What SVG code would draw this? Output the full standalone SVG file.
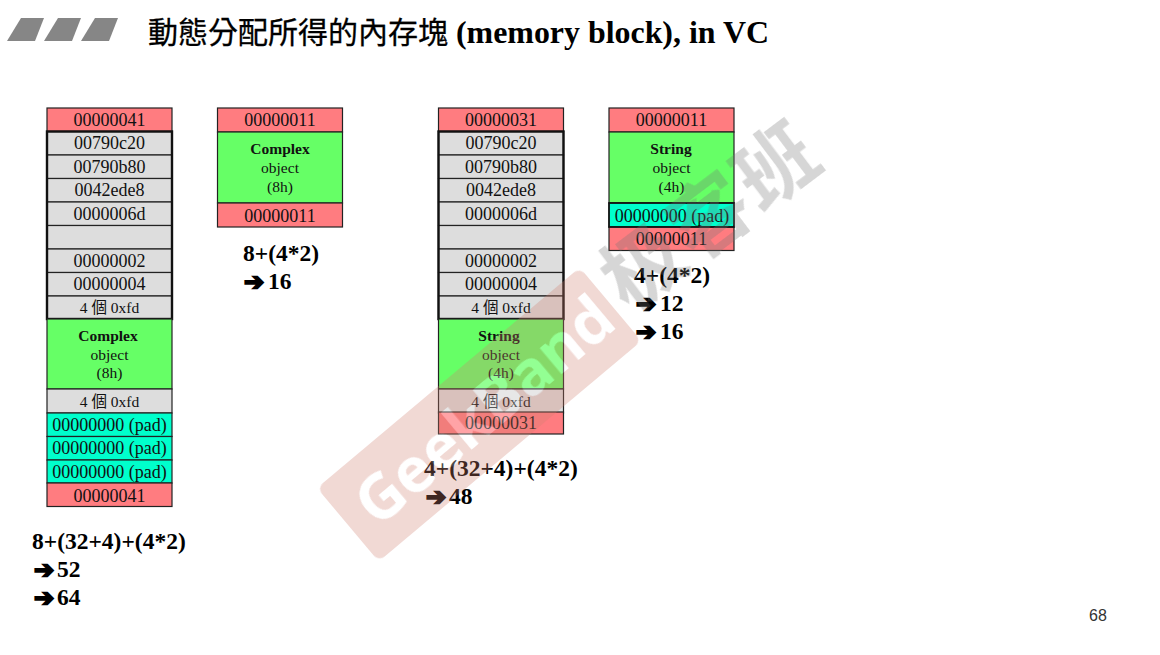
<svg xmlns="http://www.w3.org/2000/svg" width="1160" height="655" viewBox="0 0 1160 655">
<style>
.c{stroke:#222;stroke-width:1.2}
.r{fill:#ff7c80}.g{fill:#ddd}.n{fill:#66ff66}.t{fill:#00ffcc}
text{font-family:"Liberation Serif","Noto Sans CJK TC",serif;fill:#111;text-anchor:middle}
.m{font-size:18px}.s{font-size:15.500px}.b{font-weight:bold}
.f{font-size:23.500px;font-weight:bold;text-anchor:start;fill:#000}
.a{font-family:"DejaVu Sans",sans-serif;font-size:24px;font-weight:bold;text-anchor:start;fill:#000;stroke:#000;stroke-width:2}
.o{fill:none;stroke:#111;stroke-width:2.400}
</style>
<rect width="1160" height="655" fill="#fff"/>
<g id="title">
<polygon points="21,18 44,18 35,41 7,41" fill="#868686"/>
<polygon points="58,18 81,18 72,41 44,41" fill="#868686"/>
<polygon points="95,18 118,18 109,41 81,41" fill="#868686"/>
<text x="148" y="43" style="font-size:30px;text-anchor:start;fill:#000;font-family:'Noto Sans CJK TC',sans-serif;stroke:#000;stroke-width:0.300">動態分配所得的內存塊</text>
<text x="456" y="43" textLength="313" lengthAdjust="spacingAndGlyphs" style="font-size:31px;font-weight:bold;text-anchor:start;fill:#000">(memory block), in VC</text>
</g>
<g id="block-complex-debug">
<rect class="c r" x="47" y="108" width="125" height="23.500"/>
<rect class="c g" x="47" y="131.500" width="125" height="23.500"/>
<rect class="c g" x="47" y="155" width="125" height="23.500"/>
<rect class="c g" x="47" y="178.500" width="125" height="23.500"/>
<rect class="c g" x="47" y="202" width="125" height="23.500"/>
<rect class="c g" x="47" y="225.500" width="125" height="23.500"/>
<rect class="c g" x="47" y="249" width="125" height="23.500"/>
<rect class="c g" x="47" y="272.500" width="125" height="23.500"/>
<rect class="c g" x="47" y="296" width="125" height="23"/>
<rect class="o" x="47" y="131.500" width="125" height="187.500"/>
<rect class="c n" x="47" y="319" width="125" height="70"/>
<rect class="c g" x="47" y="389" width="125" height="24"/>
<rect class="c t" x="47" y="413" width="125" height="23.500"/>
<rect class="c t" x="47" y="436.500" width="125" height="23.500"/>
<rect class="c t" x="47" y="460" width="125" height="23"/>
<rect class="c r" x="47" y="483" width="125" height="23.500"/>
<text class="m" x="109.500" y="126">00000041</text>
<text class="m" x="109.500" y="149">00790c20</text>
<text class="m" x="109.500" y="173">00790b80</text>
<text class="m" x="109.500" y="196">0042ede8</text>
<text class="m" x="109.500" y="219.500">0000006d</text>
<text class="m" x="109.500" y="267">00000002</text>
<text class="m" x="109.500" y="290">00000004</text>
<text class="s" x="109.500" y="313">4 個 0xfd</text>
<text class="s b" x="108" y="341">Complex</text>
<text class="s" x="109.500" y="360">object</text>
<text class="s" x="109.500" y="378">(8h)</text>
<text class="s" x="109.500" y="407">4 個 0xfd</text>
<text class="m" x="109.500" y="431">00000000 (pad)</text>
<text class="m" x="109.500" y="454">00000000 (pad)</text>
<text class="m" x="109.500" y="478">00000000 (pad)</text>
<text class="m" x="109.500" y="502">00000041</text>
</g>
<g id="block-complex-release">
<rect class="c r" x="217.500" y="108" width="125" height="24"/>
<rect class="c n" x="217.500" y="132" width="125" height="71"/>
<rect class="c r" x="217.500" y="203" width="125" height="24"/>
<text class="m" x="280" y="126">00000011</text>
<text class="s b" x="280" y="154">Complex</text>
<text class="s" x="280" y="173">object</text>
<text class="s" x="280" y="192">(8h)</text>
<text class="m" x="280" y="222">00000011</text>
</g>
<g id="block-string-debug">
<rect class="c r" x="438.500" y="108" width="125" height="23.500"/>
<rect class="c g" x="438.500" y="131.500" width="125" height="23.500"/>
<rect class="c g" x="438.500" y="155" width="125" height="23.500"/>
<rect class="c g" x="438.500" y="178.500" width="125" height="23.500"/>
<rect class="c g" x="438.500" y="202" width="125" height="23.500"/>
<rect class="c g" x="438.500" y="225.500" width="125" height="23.500"/>
<rect class="c g" x="438.500" y="249" width="125" height="23.500"/>
<rect class="c g" x="438.500" y="272.500" width="125" height="23.500"/>
<rect class="c g" x="438.500" y="296" width="125" height="23"/>
<rect class="o" x="438.500" y="131.500" width="125" height="187.500"/>
<rect class="c n" x="438.500" y="319" width="125" height="70"/>
<rect class="c g" x="438.500" y="389" width="125" height="24"/>
<rect class="c r" x="438.500" y="412" width="125" height="22"/>
<text class="m" x="501" y="126">00000031</text>
<text class="m" x="501" y="149">00790c20</text>
<text class="m" x="501" y="173">00790b80</text>
<text class="m" x="501" y="196">0042ede8</text>
<text class="m" x="501" y="219.500">0000006d</text>
<text class="m" x="501" y="267">00000002</text>
<text class="m" x="501" y="290">00000004</text>
<text class="s" x="501" y="313">4 個 0xfd</text>
<text class="s b" x="499" y="341">String</text>
<text class="s" x="501" y="360">object</text>
<text class="s" x="501" y="378">(4h)</text>
<text class="s" x="501" y="407">4 個 0xfd</text>
<text class="m" x="501" y="429">00000031</text>
</g>
<g id="block-string-release">
<rect class="c r" x="609" y="108" width="125" height="24"/>
<rect class="c n" x="609" y="132" width="125" height="71"/>
<rect class="c t" x="609" y="203" width="125" height="24"/>
<rect class="c r" x="609" y="227" width="125" height="23.500"/>
<rect class="o" style="stroke-width:1.600" x="609" y="203" width="125" height="24"/>
<text class="m" x="671.500" y="126">00000011</text>
<text class="s b" x="671" y="154">String</text>
<text class="s" x="671.500" y="173">object</text>
<text class="s" x="671.500" y="192">(4h)</text>
<text class="m" x="672" y="222">00000000 (pad)</text>
<text class="m" x="671.500" y="245">00000011</text>
</g>
<g id="labels">
<text class="f" x="243" y="261">8+(4*2)</text>
<text class="a" x="244" y="290">➔</text><text class="f" x="268" y="289">16</text>
<text class="f" x="32" y="549">8+(32+4)+(4*2)</text>
<text class="a" x="34" y="578">➔</text><text class="f" x="57" y="577">52</text>
<text class="a" x="34" y="606">➔</text><text class="f" x="57" y="605">64</text>
<text class="f" x="424" y="476">4+(32+4)+(4*2)</text>
<text class="a" x="426" y="505">➔</text><text class="f" x="449" y="504">48</text>
<text class="f" x="634" y="283">4+(4*2)</text>
<text class="a" x="636" y="312">➔</text><text class="f" x="660" y="311">12</text>
<text class="a" x="636" y="340">➔</text><text class="f" x="660" y="339">16</text>
<text x="1098" y="621" style="font-family:'Liberation Sans',sans-serif;font-size:16px;fill:#333">68</text>
</g>
<g id="watermark" opacity="0.3">
<g transform="translate(317 488) rotate(-40)">
<rect x="0" y="0" width="343" height="96" rx="8" fill="#cf7f70"/>
<text x="178" y="70" style="font-family:'Open Sans','Liberation Sans',sans-serif;font-size:62px;font-weight:bold;fill:#fff">GeekBand</text>
</g>
<text transform="translate(728 238) rotate(-37)" style="font-family:'Noto Sans CJK SC',sans-serif;font-size:80px;font-weight:bold;fill:#777;letter-spacing:3px">极客班</text>
</g>
</svg>
